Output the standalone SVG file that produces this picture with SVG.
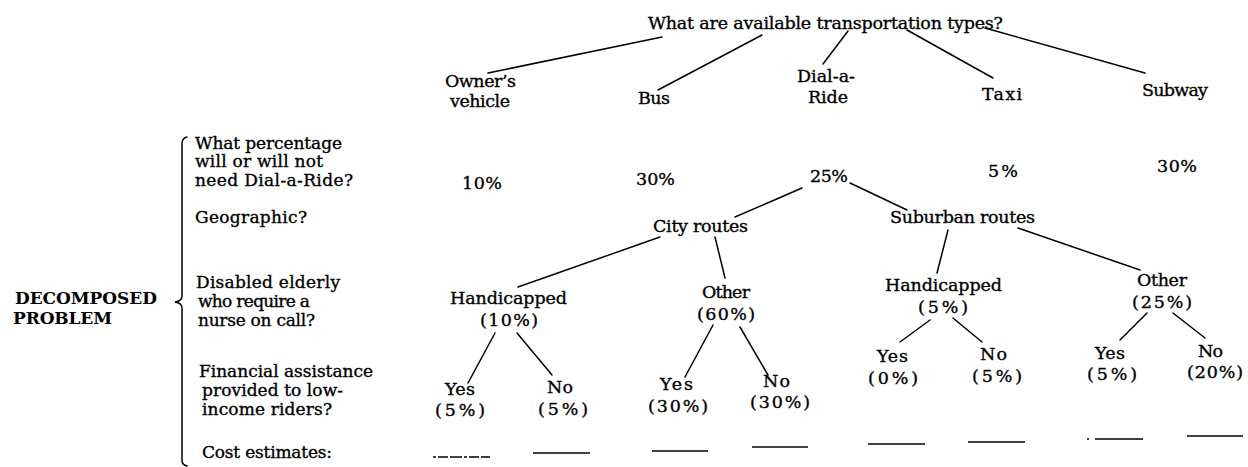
<svg xmlns="http://www.w3.org/2000/svg" width="1248" height="467" viewBox="0 0 1248 467">
<style>
text{font-family:"DejaVu Serif","Liberation Serif",serif;font-size:17.5px;fill:#000;stroke:#000;stroke-width:0.35}
.lbl{font-size:17px}
.caps{font-size:17px;font-weight:bold;stroke-width:0}
.ln{stroke:#000;stroke-width:1.5;fill:none;stroke-linecap:round}
.dash{stroke:#000;stroke-width:1.6;fill:none}
</style>
<rect width="1248" height="467" fill="#fff"/>
<g id="connectors">
<line class="ln" x1="662" y1="37" x2="488" y2="73"/>
<line class="ln" x1="762" y1="35" x2="658" y2="90"/>
<line class="ln" x1="848" y1="31" x2="823" y2="64"/>
<line class="ln" x1="907" y1="30" x2="993" y2="78"/>
<line class="ln" x1="985" y1="28" x2="1145" y2="73"/>
<line class="ln" x1="802" y1="188" x2="735" y2="217"/>
<line class="ln" x1="850" y1="183" x2="907" y2="210"/>
<line class="ln" x1="660" y1="237" x2="518" y2="287"/>
<line class="ln" x1="715" y1="237" x2="725" y2="278"/>
<line class="ln" x1="948" y1="230" x2="937" y2="273"/>
<line class="ln" x1="1018" y1="228" x2="1140" y2="270"/>
<line class="ln" x1="495" y1="333" x2="468" y2="383"/>
<line class="ln" x1="517" y1="333" x2="552" y2="375"/>
<line class="ln" x1="713" y1="325" x2="685" y2="377"/>
<line class="ln" x1="740" y1="327" x2="768" y2="375"/>
<line class="ln" x1="930" y1="320" x2="900" y2="342"/>
<line class="ln" x1="953" y1="318" x2="982" y2="342"/>
<line class="ln" x1="1147" y1="313" x2="1120" y2="340"/>
<line class="ln" x1="1173" y1="313" x2="1205" y2="338"/>
</g>
<g id="n-root"><text x="648" y="29" textLength="355">What are available transportation types?</text></g>
<g id="n-owner"><text x="445" y="87" textLength="71">Owner’s</text><text x="450" y="107" textLength="60">vehicle</text></g>
<g id="n-bus"><text x="638" y="104" textLength="32">Bus</text></g>
<g id="n-dial"><text x="797" y="82" textLength="58">Dial-a-</text><text x="808" y="103" textLength="40">Ride</text></g>
<g id="n-taxi"><text x="982" y="100" textLength="40">Taxi</text></g>
<g id="n-subway"><text x="1142" y="96" textLength="66">Subway</text></g>
<g id="p-owner"><text x="462" y="189" textLength="40">10%</text></g>
<g id="p-bus"><text x="636" y="185" textLength="39">30%</text></g>
<g id="p-dial"><text x="810" y="182" textLength="38">25%</text></g>
<g id="p-taxi"><text x="988" y="177" textLength="30">5%</text></g>
<g id="p-subway"><text x="1157" y="172" textLength="40">30%</text></g>
<g id="n-city"><text x="653" y="232" textLength="95">City routes</text></g>
<g id="n-suburban"><text x="890" y="223" textLength="145">Suburban routes</text></g>
<g id="n-city-hc"><text x="450" y="304" textLength="117">Handicapped</text><text x="480" y="326" textLength="58">(10%)</text></g>
<g id="n-city-other"><text x="702" y="298" textLength="48">Other</text><text x="697" y="320" textLength="58">(60%)</text></g>
<g id="n-sub-hc"><text x="885" y="291" textLength="117">Handicapped</text><text x="918" y="313" textLength="50">(5%)</text></g>
<g id="n-sub-other"><text x="1137" y="286" textLength="50">Other</text><text x="1132" y="308" textLength="60">(25%)</text></g>
<g id="l-city-hc-yes"><text x="445" y="395" textLength="30">Yes</text><text x="435" y="416" textLength="50">(5%)</text></g>
<g id="l-city-hc-no"><text x="547" y="393" textLength="26">No</text><text x="538" y="415" textLength="50">(5%)</text></g>
<g id="l-city-oth-yes"><text x="660" y="390" textLength="33">Yes</text><text x="648" y="412" textLength="60">(30%)</text></g>
<g id="l-city-oth-no"><text x="763" y="387" textLength="27">No</text><text x="750" y="408" textLength="60">(30%)</text></g>
<g id="l-sub-hc-yes"><text x="877" y="362" textLength="31">Yes</text><text x="868" y="384" textLength="50">(0%)</text></g>
<g id="l-sub-hc-no"><text x="980" y="360" textLength="27">No</text><text x="972" y="382" textLength="50">(5%)</text></g>
<g id="l-sub-oth-yes"><text x="1095" y="359" textLength="30">Yes</text><text x="1087" y="380" textLength="50">(5%)</text></g>
<g id="l-sub-oth-no"><text x="1198" y="357" textLength="25">No</text><text x="1187" y="378" textLength="56">(20%)</text></g>
<g id="cost-estimates">
<line class="dash" x1="433" y1="457" x2="490" y2="457" stroke-dasharray="3 2 10 2 12 2"/>
<line class="dash" x1="533" y1="453" x2="590" y2="453"/>
<line class="dash" x1="652" y1="451" x2="708" y2="451"/>
<line class="dash" x1="752" y1="447" x2="808" y2="447"/>
<line class="dash" x1="868" y1="444" x2="925" y2="444"/>
<line class="dash" x1="968" y1="442" x2="1025" y2="442"/>
<line class="dash" x1="1087" y1="439" x2="1143" y2="439" stroke-dasharray="2 6 60"/>
<line class="dash" x1="1187" y1="436" x2="1243" y2="436"/>
</g>
<g id="questions">
<text class="lbl" x="195" y="149" textLength="147">What percentage</text>
<text class="lbl" x="195" y="167" textLength="128">will or will not</text>
<text class="lbl" x="195" y="186" textLength="158">need Dial-a-Ride?</text>
<text class="lbl" x="195" y="223" textLength="112">Geographic?</text>
<text class="lbl" x="196" y="288" textLength="144">Disabled elderly</text>
<text class="lbl" x="198" y="307" textLength="112">who require a</text>
<text class="lbl" x="198" y="326" textLength="117">nurse on call?</text>
<text class="lbl" x="199" y="377" textLength="174">Financial assistance</text>
<text class="lbl" x="202" y="396" textLength="141">provided to low-</text>
<text class="lbl" x="202" y="415" textLength="130">income riders?</text>
<text class="lbl" x="202" y="458" textLength="130">Cost estimates:</text>
</g>
<g id="decomposed">
<path class="ln" d="M187 137 Q182 138 182 144 L182 296 Q182 301 175 302 Q182 303 182 308 L182 460 Q182 465 187 466"/>
<text class="caps" x="15" y="304" textLength="142">DECOMPOSED</text>
<text class="caps" x="13" y="324" textLength="99">PROBLEM</text>
</g>
</svg>
